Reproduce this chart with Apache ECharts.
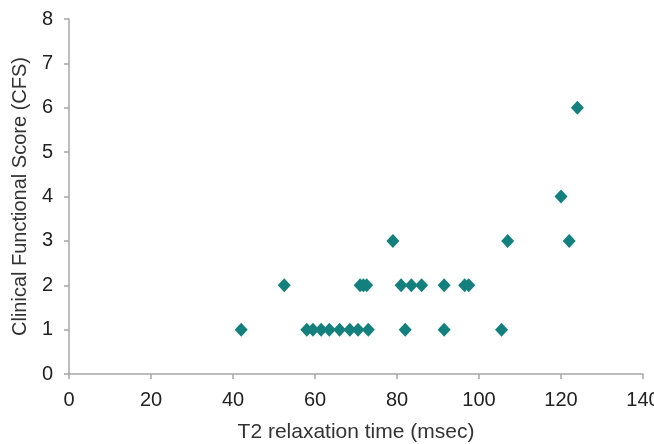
<!DOCTYPE html>
<html>
<head>
<meta charset="utf-8">
<script src="https://cdn.jsdelivr.net/npm/echarts@6/dist/echarts.min.js"></script>
<style>
  html, body { margin: 0; padding: 0; background: #fff; }
  #main { width: 654px; height: 444px; }
</style>
</head>
<body>
<div id="main"></div>
<script>
// T2 relaxation time (msec) vs clinical score
let t2Times = [42, 52.5, 58, 59.5, 61.5, 63.5, 66, 68.5, 70.5, 71, 71.8, 72.6, 73,
  79, 81, 82, 83.5, 86, 91.5, 91.5, 96.5, 97.5, 105.5, 107, 120, 122, 124]
let cfsScores = [1, 2, 1, 1, 1, 1, 1, 1, 1, 2, 2, 2, 1,
  3, 2, 1, 2, 2, 2, 1, 2, 2, 1, 3, 4, 3, 6]
let xTicks = [0, 20, 40, 60, 80, 100, 120, 140]
let yTicks = [0, 1, 2, 3, 4, 5, 6, 7, 8]

let points = t2Times.map(function (t, i) {
    return [t, cfsScores[i]]
})

let font = 'Liberation Sans, Arial, sans-serif'
let axisGray = '#a6a6a6'

let chart = echarts.init(document.getElementById('main'))
let option = {
    animation: false,
    grid: {
        left: 69,
        right: 11,
        top: 19,
        bottom: 70,
        containLabel: false,
        outerBoundsMode: 'none'
    },
    xAxis: {
        type: 'value',
        min: xTicks[0],
        max: xTicks[xTicks.length - 1],
        interval: 20,
        name: 'T2 relaxation time (msec)',
        nameLocation: 'middle',
        nameGap: 48,
        nameTextStyle: { fontFamily: font, fontSize: 21, color: '#333' },
        axisLine: { lineStyle: { color: axisGray, width: 1.5 } },
        axisTick: { show: true, length: 5, lineStyle: { color: axisGray, width: 1.5 } },
        axisLabel: { fontFamily: font, fontSize: 20, color: '#222', margin: 16 },
        splitLine: { show: false }
    },
    yAxis: {
        type: 'value',
        min: yTicks[0],
        max: yTicks[yTicks.length - 1],
        interval: 1,
        name: 'Clinical Functional Score (CFS)',
        nameLocation: 'middle',
        nameGap: 39,
        nameTextStyle: { fontFamily: font, fontSize: 20, color: '#333' },
        axisLine: { show: true, lineStyle: { color: axisGray, width: 1.5 } },
        axisTick: { show: true, length: 5, lineStyle: { color: axisGray, width: 1.5 } },
        axisLabel: { fontFamily: font, fontSize: 20, color: '#222', margin: 16 },
        splitLine: { show: false }
    },
    series: [{
        type: 'scatter',
        data: points,
        symbol: 'diamond',
        symbolSize: [13, 14],
        itemStyle: { color: '#13807d', opacity: 1 }
    }]
}
chart.setOption(option)
</script>
</body>
</html>
